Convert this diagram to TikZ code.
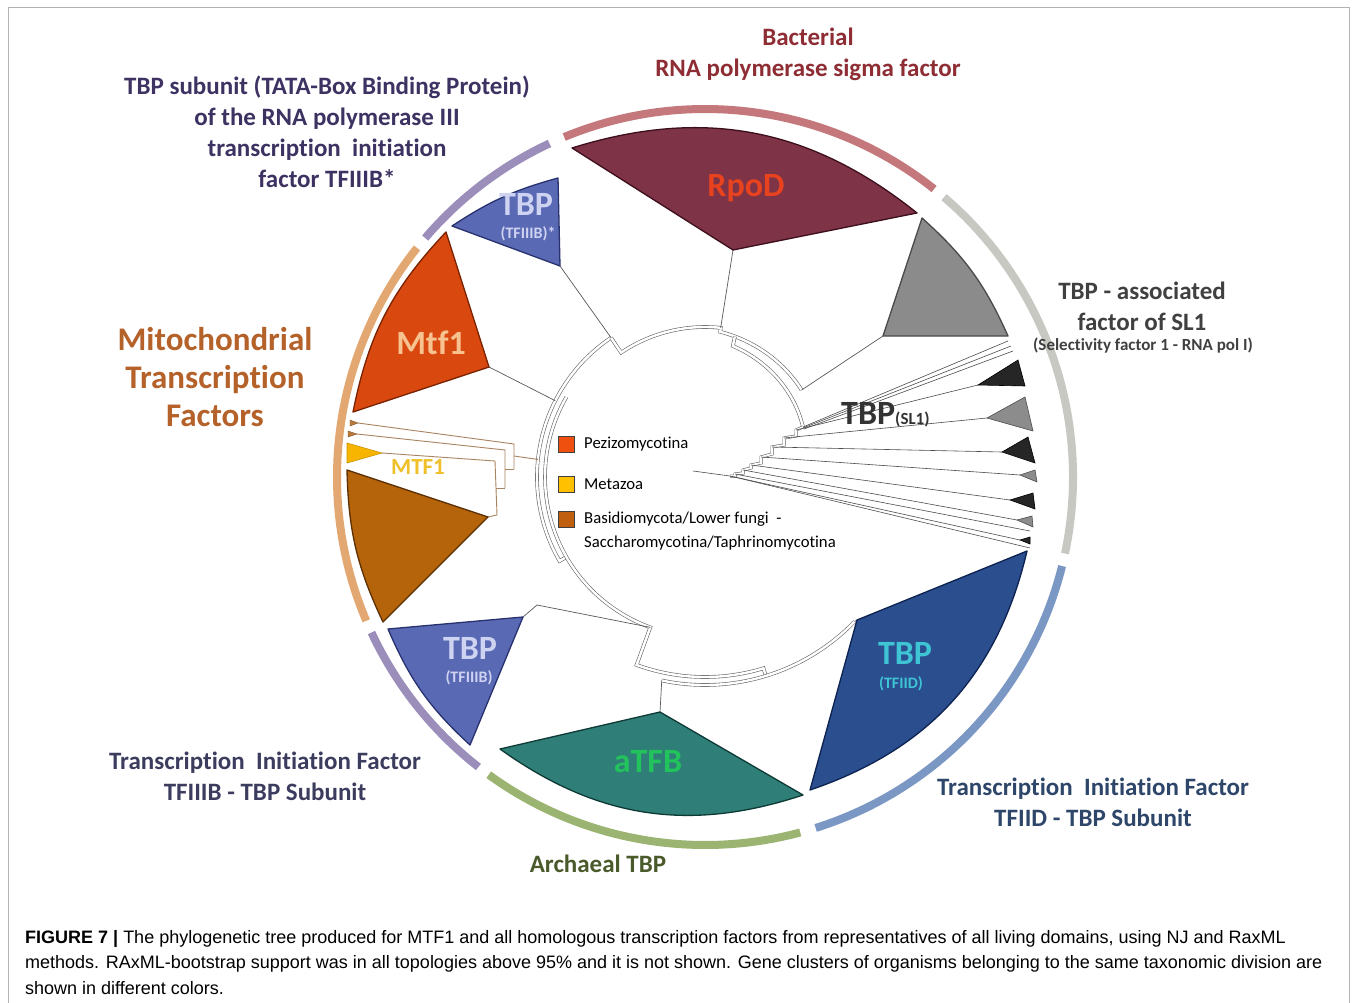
\documentclass[tikz,border=0pt]{standalone}
\usepackage{fontspec}
\setmainfont{Carlito}[Ligatures=NoCommon]
\newfontfamily\capfont{Liberation Sans}
\usetikzlibrary{calc}
\definecolor{ringred}{HTML}{C4787C}
\definecolor{ringpurple}{HTML}{9C8EBB}
\definecolor{ringorange}{HTML}{E3A872}
\definecolor{ringgreen}{HTML}{9CB472}
\definecolor{ringblue}{HTML}{7B98C4}
\definecolor{ringgray}{HTML}{C8C8C2}
\definecolor{rpodfill}{HTML}{7E3346}
\definecolor{rpoddraw}{HTML}{3D0F1C}
\definecolor{rpodtext}{HTML}{E8421E}
\definecolor{grayfill}{HTML}{8B8B8B}
\definecolor{graydraw}{HTML}{4A4A4A}
\definecolor{bluefill}{HTML}{5A69B4}
\definecolor{bluedraw}{HTML}{28326F}
\definecolor{lavtext}{HTML}{CFD3F2}
\definecolor{mtffill}{HTML}{D8480F}
\definecolor{mtfdraw}{HTML}{7A2200}
\definecolor{mtftext}{HTML}{F7C290}
\definecolor{brownfill}{HTML}{B5640C}
\definecolor{browndraw}{HTML}{5C3000}
\definecolor{yelfill}{HTML}{F7B500}
\definecolor{yeltext}{HTML}{EFC02A}
\definecolor{tinybrown}{HTML}{B87A3A}
\definecolor{tealfill}{HTML}{2F7F78}
\definecolor{tealdraw}{HTML}{0E3A36}
\definecolor{atfbtext}{HTML}{22C25C}
\definecolor{dbluefill}{HTML}{2A4E8E}
\definecolor{dbluedraw}{HTML}{0D2250}
\definecolor{cyantext}{HTML}{3EC4D4}
\definecolor{mtfline}{HTML}{A88460}
\definecolor{lbact}{HTML}{8E2D34}
\definecolor{ltbp}{HTML}{3D3262}
\definecolor{lmito}{HTML}{B5622A}
\definecolor{lsl}{HTML}{404040}
\definecolor{ltf3}{HTML}{3C3C5E}
\definecolor{larch}{HTML}{4A5A2A}
\definecolor{ltfd}{HTML}{2D4669}
\definecolor{legor}{HTML}{F0500F}
\definecolor{legye}{HTML}{FFC000}
\definecolor{legbr}{HTML}{C05F10}
\begin{document}
\begin{tikzpicture}[x=1pt,y=-1pt,
  ring/.style={line width=8pt},
  wedgeshape/.style={line width=1.3pt, line join=round},
  tree/.style={draw=black!60, line width=0.6pt, double=white, double distance=2.4pt},
  rad/.style={draw=black!65, line width=0.7pt},
  leaf/.style={draw=black!70, line width=0.6pt},
  mtfl/.style={draw=mtfline, line width=0.9pt},
  slb/.style={fill=black!85, draw=black, line width=0.6pt},
  slg/.style={fill=black!45, draw=black!70, line width=0.6pt},
  outer/.style={font=\fontsize{25}{31}\selectfont\bfseries, align=center, inner sep=0pt},
  big/.style={font=\fontsize{34}{34}\selectfont\bfseries, inner sep=0pt},
  small/.style={font=\fontsize{16}{16}\selectfont\bfseries, inner sep=0pt},
  legtext/.style={font=\fontsize{16.7}{16.7}\selectfont, anchor=west, inner sep=0pt},
  legbox/.style={draw=black!75, line width=0.6pt}]
\useasboundingbox (0,0) rectangle (1357,1003);
\fill[white] (0,0) rectangle (1357,1003);
\draw[black!30, line width=1pt] (8,1010) -- (8,8) -- (1349,8) -- (1349,1010);
\coordinate (C) at (705,477);

% outer ring
\draw[ring, ringred] ($(C)+(-51.5:368)$) arc[start angle=-51.5, end angle=-112.5, radius=368];
\draw[ring, ringpurple] ($(C)+(-115:368)$) arc[start angle=-115, end angle=-139.5, radius=368];
\draw[ring, ringorange] ($(C)+(-141.5:368)$) arc[start angle=-141.5, end angle=-203, radius=368];
\draw[ring, ringpurple] ($(C)+(-205:368)$) arc[start angle=-205, end angle=-232, radius=368];
\draw[ring, ringgreen] ($(C)+(-234:368)$) arc[start angle=-234, end angle=-285, radius=368];
\draw[ring, ringblue] ($(C)+(-287.5:368)$) arc[start angle=-287.5, end angle=-346, radius=368];
\draw[ring, ringgray] ($(C)+(-348:368)$) arc[start angle=-348, end angle=-409.5, radius=368];

% tree arcs
\draw[tree] ($(C)+(-124:168)$) arc[start angle=-124, end angle=-210, radius=168] -- ($(C)+(-210:160)$);
\draw[tree] ($(C)+(-150:160)$) arc[start angle=-150, end angle=-250, radius=160] -- ($(C)+(-250:200)$) arc[start angle=-250, end angle=-287, radius=200] -- ($(C)+(-287:208)$);
\draw[tree] ($(C)+(-258:208)$) arc[start angle=-258, end angle=-316, radius=208];
\draw[tree] ($(C)+(-124:168)$) -- ($(C)+(-124:150)$) arc[start angle=-124, end angle=-84, radius=150] -- ($(C)+(-84:146)$)
  -- plot[domain=84:42, samples=30, variable=\t] ({705+(146-16*(84-\t)/42)*cos(\t)},{477-(146-16*(84-\t)/42)*sin(\t)});
\draw[tree] ($(C)+(-78:143.7)$) -- plot[domain=78:27, samples=40, variable=\t] ({705+(134-24*(78-\t)/51)*cos(\t)},{477-(134-24*(78-\t)/51)*sin(\t)});
\draw[tree, double distance=1.8pt] (803,427) -- (796,430) -- (796,436) -- (784,438) -- (784,445) -- (772,447) -- (772,454) -- (761,457) -- (761,463) -- (751,465) -- (751,468) -- (743,470) -- (743,473) -- (735,474) -- (735,476) -- (730,476);

% SL1 leaves
\draw[leaf] (803,427) -- (1008,341);
\draw[leaf] (803,428) -- (1011,346);
\draw[leaf] (804,429) -- (1013,351);
\draw[leaf] (796,430) -- (978,385);
\draw[leaf] (784,438) -- (987,418);
\draw[leaf] (772,447) -- (1002,452);
\draw[leaf] (761,457) -- (1020,475);
\draw[leaf] (751,465) -- (1010,500);
\draw[leaf] (743,470) -- (1017,520);
\draw[leaf] (735,474) -- (1030,531);
\draw[leaf] (730,476) -- (1020,540);
\draw[leaf] (730,476) -- (1030,548);
\draw[leaf] (693,471) -- (730,476);

% radial branches
\draw[rad] (560,266) -- ($(C)+(-124:168)$);
\draw[rad] (489,367) -- ($(C)+(-153:168)$);
\draw[rad] (733,250) -- ($(C)+(-84:150)$);
\draw[rad] (883,336) -- ($(C)+(-42:130)$);
\draw[rad] (523,617) -- (537,605) -- ($(C)+(-250:160)$);
\draw[rad] (660,712) -- ($(C)+(-258:208)$);
\draw[rad] (857,620) -- ($(C)+(-316:208)$);

% MTF1 group lines
\draw[mtfl] (358,423) -- (514,444) -- (514,469);
\draw[mtfl] (357,434) -- (505,450) -- (505,488);
\draw[mtfl] (382,453) -- (495,461) -- (497,515) -- (488,517);
\draw[mtfl] (496,488) -- (505,488);
\draw[mtfl] (505,469) -- (514,469);
\draw[mtfl] (514,456) -- ($(C)+(-174:168)$);

% clades (wedges)
\filldraw[wedgeshape, fill=rpodfill, draw=rpoddraw] (733,250) -- (572,148) to[bend left=28] (917,213) -- cycle;
\filldraw[wedgeshape, fill=grayfill, draw=graydraw] (883,336) -- (922,218) to[bend left=12] (1008,336) -- cycle;
\filldraw[wedgeshape, fill=bluefill, draw=bluedraw] (560,266) -- (452,226) to[bend left=9] (558,178) -- cycle;
\filldraw[wedgeshape, fill=mtffill, draw=mtfdraw] (489,367) -- (353,412) to[bend left=16] (446,232) -- cycle;
\filldraw[wedgeshape, fill=brownfill, draw=browndraw] (488,517) -- (383,622) to[bend left=12] (347,470) -- cycle;
\filldraw[wedgeshape, fill=bluefill, draw=bluedraw] (523,617) -- (470,745) to[bend left=12] (388,629) -- cycle;
\filldraw[wedgeshape, fill=tealfill, draw=tealdraw] (660,712) -- (803,795) to[bend left=27] (500,749) -- cycle;
\filldraw[wedgeshape, fill=dbluefill, draw=dbluedraw] (857,620) -- (1027,551) to[bend left=29] (810,790) -- cycle;
\filldraw[fill=yelfill, draw=yelfill!80!black, line width=0.6pt] (382,453) -- (347,443) -- (347,463) -- cycle;
\filldraw[fill=tinybrown, draw=tinybrown!70!black, line width=0.4pt] (358,423) -- (350,420) -- (350,426) -- cycle;
\filldraw[fill=tinybrown, draw=tinybrown!70!black, line width=0.4pt] (357,434) -- (348,431) -- (348,437) -- cycle;

% SL1 triangles
\filldraw[slb] (978,385) -- (1018,360) -- (1025,386) -- cycle;
\filldraw[slg] (987,418) -- (1025,397) -- (1033,431) -- cycle;
\filldraw[slb] (1002,452) -- (1028,437) -- (1035,463) -- cycle;
\filldraw[slg] (1020,475) -- (1035,470) -- (1037,482) -- cycle;
\filldraw[slb] (1010,500) -- (1033,493) -- (1035,509) -- cycle;
\filldraw[slg] (1017,520) -- (1032,516) -- (1033,527) -- cycle;
\filldraw[slb] (1020,540) -- (1030,537) -- (1030,544) -- cycle;

% wedge labels
\node[big, text=rpodtext] (lrpod) at (746,188) {RpoD};
\node[big, text=lavtext] (ltbpa) at (526,204) {TBP};
\node[small, text=lavtext] (ltbpas) at (528,234) {(TFIIIB)*};
\node[big, text=mtftext] (lmtf) at (431,343) {Mtf1};
\node[text=yeltext, font=\fontsize{23}{23}\selectfont\bfseries, inner sep=0pt] (lmtfy) at (418,467) {MTF1};
\node[big, text=lavtext] (ltbpb) at (470,648) {TBP};
\node[small, text=lavtext] (ltbpbs) at (469,678) {(TFIIIB)};
\node[big, text=atfbtext] (latfb) at (648,762) {aTFB};
\node[big, text=cyantext] (ltbpc) at (905,653) {TBP};
\node[small, text=cyantext] (ltbpcs) at (901,684) {(TFIID)};
\node[anchor=base west, inner sep=0pt, text=black!80] (lsl1) at (841,424) {\fontsize{34}{34}\selectfont\bfseries TBP\fontsize{17}{17}\selectfont(SL1)};

% legend
\filldraw[legbox, fill=legor] (558,436) rectangle (574,452);
\filldraw[legbox, fill=legye] (558,476) rectangle (574,492);
\filldraw[legbox, fill=legbr] (558,511) rectangle (574,527);
\node[legtext] (lg1) at (584,444) {Pezizomycotina};
\node[legtext] (lg2) at (584,484) {Metazoa};
\node[legtext] (lg3) at (584,519) {Basidiomycota/Lower fungi\ \ -};
\node[legtext] (lg4) at (584,543) {Saccharomycotina/Taphrinomycotina};

% outer labels
\node[outer, text=lbact] (tbact) at (808,54) {Bacterial\\RNA polymerase sigma factor};
\node[outer, text=ltbp] (ttbp) at (327,132) {TBP subunit (TATA-Box Binding Protein)\\of the RNA polymerase III\\transcription\ \ initiation\\factor TFIIIB*};
\node[outer, text=lmito, font=\fontsize{33}{38}\selectfont\bfseries] (tmito) at (215,377) {Mitochondrial\\Transcription\\Factors};
\node[outer, text=lsl] (tsl) at (1142,306) {TBP - associated\\factor of SL1};
\node[outer, text=lsl, font=\fontsize{17}{17}\selectfont\bfseries] (tsl2) at (1143,346) {(Selectivity factor 1 - RNA pol I)};
\node[outer, text=ltf3] (ttf3) at (265,776) {Transcription\ \ Initiation Factor\\TFIIIB - TBP Subunit};
\node[outer, text=larch] (tarch) at (598,864) {Archaeal TBP};
\node[outer, text=ltfd] (ttfd) at (1093,802) {Transcription\ \ Initiation Factor\\TFIID - TBP Subunit};

% caption
\node[anchor=north west, align=left, inner sep=0pt, font=\capfont\fontsize{18}{25.5}\selectfont] (cap) at (25,930)
{\textbf{FIGURE 7 |} The phylogenetic tree produced for MTF1 and all homologous transcription factors from representatives of all living domains, using NJ and RaxML\\
methods. RAxML-bootstrap support was in all topologies above 95\% and it is not shown. Gene clusters of organisms belonging to the same taxonomic division are\\
shown in different colors.};
\end{tikzpicture}
\end{document}
